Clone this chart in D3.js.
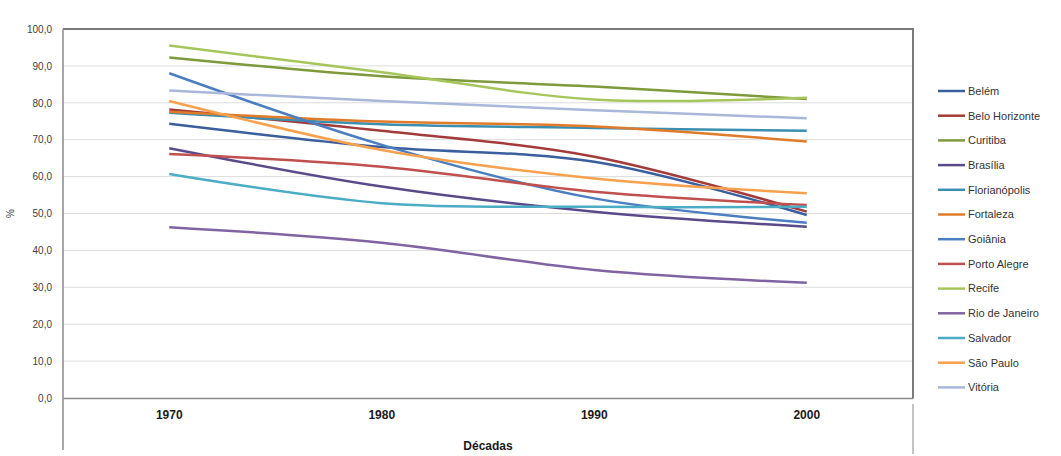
<!DOCTYPE html>
<html>
<head>
<meta charset="utf-8">
<script src="https://cdn.jsdelivr.net/npm/d3@7"></script>
<style>
  body { margin: 0; background: #fff; }
  #graf { width: 1061px; height: 456px; }
  text { font-family: "Liberation Sans", Arial, sans-serif; }
</style>
</head>
<body>
<div id="graf"></div>
<script>
// Dados
var decadas = ['1970', '1980', '1990', '2000']
var cidades = ['Belém', 'Belo Horizonte', 'Curitiba', 'Brasília', 'Florianópolis', 'Fortaleza',
               'Goiânia', 'Porto Alegre', 'Recife', 'Rio de Janeiro', 'Salvador', 'São Paulo', 'Vitória']
var valores = [
  [74.3, 68.0, 64.0, 49.6],   // Belém
  [78.2, 72.4, 65.4, 50.5],   // Belo Horizonte
  [92.3, 87.2, 84.4, 81.0],   // Curitiba
  [67.7, 57.3, 50.5, 46.4],   // Brasília
  [77.3, 74.2, 73.2, 72.4],   // Florianópolis
  [77.6, 74.9, 73.6, 69.5],   // Fortaleza
  [88.0, 68.6, 54.1, 47.5],   // Goiânia
  [66.1, 62.7, 55.9, 52.3],   // Porto Alegre
  [95.5, 88.3, 80.9, 81.4],   // Recife
  [46.3, 42.1, 34.7, 31.2],   // Rio de Janeiro
  [60.7, 52.8, 51.8, 51.8],   // Salvador
  [80.5, 67.2, 59.5, 55.5],   // São Paulo
  [83.3, 80.5, 78.0, 75.8]    // Vitória
]
var yTicks = [0, 10, 20, 30, 40, 50, 60, 70, 80, 90, 100]

var cores = ['#3b5e9e', '#a33b3a', '#7e9a3a', '#5b4a8a', '#3a8fb0', '#e07b2a',
             '#4a7ec0', '#c0504d', '#a6c65c', '#8064a2', '#4bacc6', '#f7a04e', '#a9b7db']

var margins = { top: 29, left: 63, right: 148, bottom: 58 }
var ancho_total = 1061, alto_total = 456
var ancho = ancho_total - margins.left - margins.right
var alto = alto_total - margins.top - margins.bottom

var svg = d3.select('#graf').append('svg')
  .attr('width', ancho_total)
  .attr('height', alto_total)

var g = svg.append('g')
  .attr('transform', `translate(${margins.left}, ${margins.top})`)

// Escaladores
var x = d3.scaleBand().domain(decadas).range([0, ancho])
var y = d3.scaleLinear().domain([0, 100]).range([alto, 0])
var color = d3.scaleOrdinal().domain(cidades).range(cores)

// Linhas de grade
g.append('g')
  .selectAll('line')
  .data(yTicks.slice(1, -1))
  .join('line')
  .attr('x1', 0).attr('x2', ancho)
  .attr('y1', d => y(d)).attr('y2', d => y(d))
  .attr('stroke', '#dcdcdc')
  .attr('stroke-width', 1)

// Borda superior e direita
g.append('path')
  .attr('d', `M0,${y(100)}H${ancho}V${alto}`)
  .attr('fill', 'none')
  .attr('stroke', '#7a7a7a')
  .attr('stroke-width', 2)

// moldura que continua abaixo
g.append('line')
  .attr('x1', ancho).attr('x2', ancho)
  .attr('y1', alto + 6).attr('y2', alto + 56)
  .attr('stroke', '#b0b0b0').attr('stroke-width', 1.5)

// Eixo Y
var yAxis = g.append('g')
  .call(d3.axisLeft(y).tickValues(yTicks).tickSize(0).tickPadding(11)
    .tickFormat(d => d3.format('.1f')(d).replace('.', ',')))
yAxis.select('.domain').remove()
yAxis.selectAll('text')
  .attr('font-size', '10px')
  .attr('fill', '#404040')

g.append('line')
  .attr('x1', 0).attr('x2', 0)
  .attr('y1', 0).attr('y2', alto + 52)
  .attr('stroke', '#8a8a8a').attr('stroke-width', 1.5)

// Eixo X
var xAxis = g.append('g')
  .attr('transform', `translate(0, ${alto})`)
  .call(d3.axisBottom(x).tickSize(0).tickPadding(12))
xAxis.select('.domain')
  .attr('stroke', '#8a8a8a').attr('stroke-width', 1.5)
xAxis.selectAll('text')
  .attr('font-size', '12px')
  .attr('font-weight', 'bold')
  .attr('fill', '#1a1a1a')

// Títulos dos eixos
g.append('text')
  .attr('x', ancho / 2)
  .attr('y', alto + 52)
  .attr('text-anchor', 'middle')
  .attr('font-size', '12px')
  .attr('font-weight', 'bold')
  .attr('fill', '#1a1a1a')
  .text('Décadas')

svg.append('text')
  .attr('transform', `translate(14, ${margins.top + y(50)}) rotate(-90)`)
  .attr('text-anchor', 'middle')
  .attr('font-size', '10px')
  .attr('fill', '#404040')
  .text('%')

// Generador de linhas (suavizado como no Excel)
var lineaGen = d3.line()
  .x((d, i) => x(decadas[i]) + x.bandwidth() / 2)
  .y(d => y(d))
  .curve(d3.curveCatmullRom.alpha(0.5))

g.append('g')
  .selectAll('path')
  .data(cidades)
  .join('path')
  .attr('fill', 'none')
  .attr('stroke', d => color(d))
  .attr('stroke-width', 2.5)
  .attr('d', (d, i) => lineaGen(valores[i]))

// Legenda
var legenda = svg.append('g')
  .attr('transform', 'translate(938, 91)')

var item = legenda.selectAll('g')
  .data(cidades)
  .join('g')
  .attr('transform', (d, i) => `translate(0, ${i * 24.7})`)

item.append('line')
  .attr('x1', 0).attr('x2', 27)
  .attr('stroke', d => color(d))
  .attr('stroke-width', 2.5)

item.append('text')
  .attr('x', 30)
  .attr('dy', '0.35em')
  .attr('font-size', '11px')
  .attr('fill', '#333')
  .text(d => d)
</script>
</body>
</html>
